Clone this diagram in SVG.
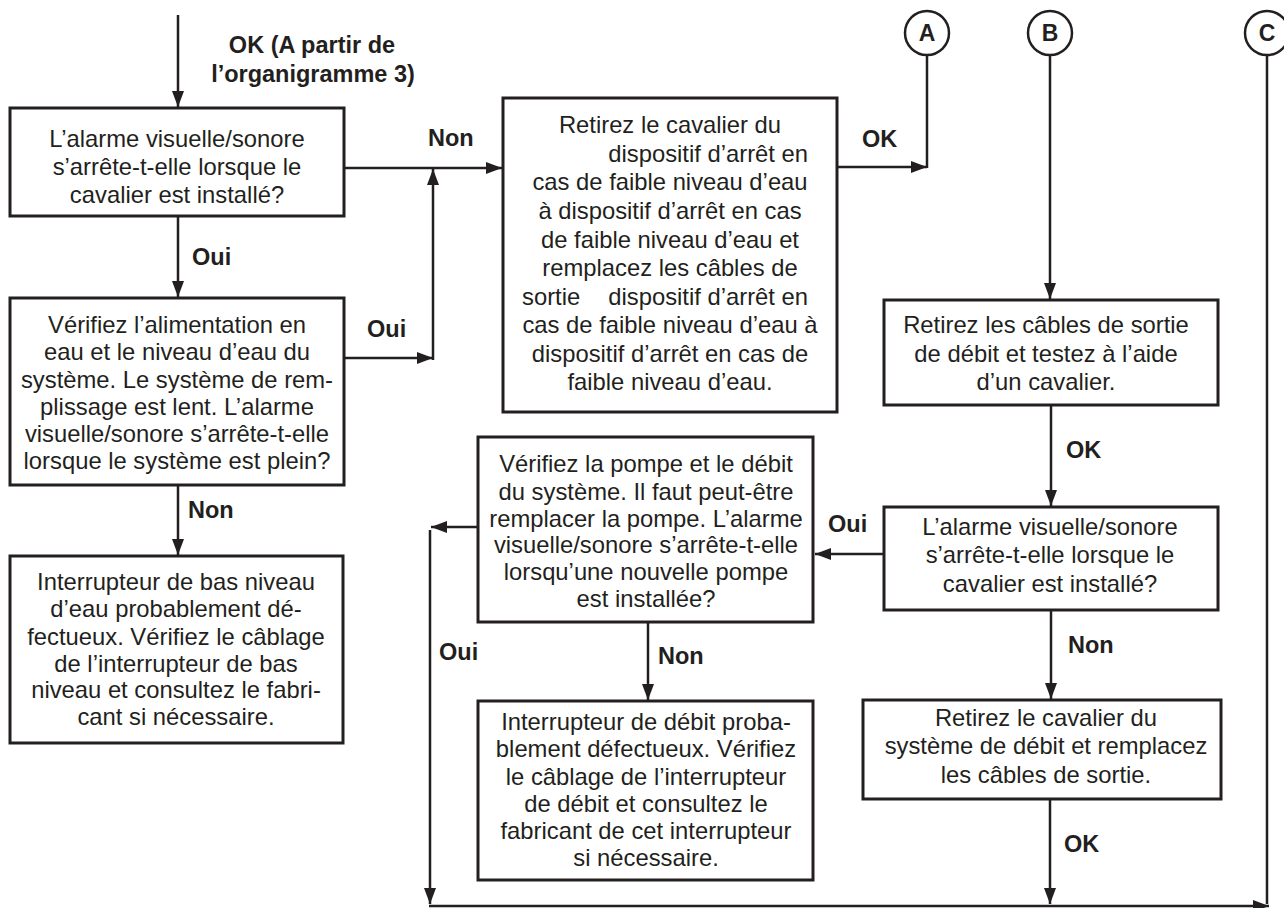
<svg xmlns="http://www.w3.org/2000/svg" width="1284" height="908" viewBox="0 0 1284 908">
<style>
.box{fill:#fff;stroke:#231f20;stroke-width:3}
.t{font-family:"Liberation Sans",Arial,sans-serif;font-size:23.8px;fill:#231f20;text-anchor:middle}
.b{font-family:"Liberation Sans",Arial,sans-serif;font-size:23.5px;font-weight:bold;fill:#231f20}
.c{font-family:"Liberation Sans",Arial,sans-serif;font-size:23px;font-weight:bold;fill:#231f20;text-anchor:middle}
.ln{fill:none;stroke:#231f20;stroke-width:2.5}
.arr{marker-end:url(#ah)}
.circ{fill:#fff;stroke:#231f20;stroke-width:2.5}
</style>
<defs>
<marker id="ah" viewBox="0 0 16 12" refX="16" refY="6" markerWidth="16" markerHeight="12" orient="auto" markerUnits="userSpaceOnUse">
<path d="M0,0 L16,6 L0,12 z" fill="#231f20"/>
</marker>
</defs>
<rect width="1284" height="908" fill="#fff"/>

<g id="connectors">
<path class="ln arr" d="M178,15 V107"/>
<path class="ln arr" d="M178,216 V297"/>
<path class="ln arr" d="M344,168 H502"/>
<path class="ln arr" d="M344,358 H433"/>
<path class="ln arr" d="M433,360 V169"/>
<path class="ln arr" d="M837,167 H927"/>
<path class="ln" d="M927,55 V168"/>
<path class="ln arr" d="M1050,55 V299"/>
<path class="ln arr" d="M1051,405 V506"/>
<path class="ln arr" d="M884,554 H815"/>
<path class="ln arr" d="M478,527 H431"/>
<path class="ln arr" d="M430,530 V904"/>
<path class="ln arr" d="M648,622 V700"/>
<path class="ln arr" d="M1051,610 V699"/>
<path class="ln arr" d="M1050,799 V904"/>
<path class="ln arr" d="M429,906 H1269"/>
<path class="ln" d="M1267,55 V904"/>
<path class="ln arr" d="M178,485 V555"/>
<text class="b" x="312" y="53" text-anchor="middle">OK (A partir de</text>
<text class="b" x="313" y="82" text-anchor="middle">l’organigramme 3)</text>
<text class="b" x="192" y="265">Oui</text>
<text class="b" x="428" y="146">Non</text>
<text class="b" x="367" y="337">Oui</text>
<text class="b" x="862" y="147">OK</text>
<text class="b" x="188" y="518">Non</text>
<text class="b" x="1066" y="458">OK</text>
<text class="b" x="828" y="532">Oui</text>
<text class="b" x="1068" y="653">Non</text>
<text class="b" x="658" y="664">Non</text>
<text class="b" x="439" y="660">Oui</text>
<text class="b" x="1064" y="852">OK</text>
</g>

<g id="n1">
<rect class="box" x="10" y="108" width="334" height="108"/>
<text class="t"><tspan x="177" y="147">L’alarme visuelle/sonore</tspan><tspan x="177" y="175">s’arrête-t-elle lorsque le</tspan><tspan x="177" y="203">cavalier est installé?</tspan></text>
</g>

<g id="n2">
<rect class="box" x="10" y="298" width="334" height="187"/>
<text class="t"><tspan x="177" y="333">Vérifiez l’alimentation en</tspan><tspan x="177" y="360">eau et le niveau d’eau du</tspan><tspan x="177" y="388">système. Le système de rem-</tspan><tspan x="177" y="415">plissage est lent. L’alarme</tspan><tspan x="177" y="442">visuelle/sonore s’arrête-t-elle</tspan><tspan x="177" y="469">lorsque le système est plein?</tspan></text>
</g>

<g id="n3">
<rect class="box" x="10" y="556" width="333" height="187"/>
<text class="t"><tspan x="176" y="590">Interrupteur de bas niveau</tspan><tspan x="176" y="617">d’eau probablement dé-</tspan><tspan x="176" y="645">fectueux. Vérifiez le câblage</tspan><tspan x="176" y="672">de l’interrupteur de bas</tspan><tspan x="176" y="698">niveau et consultez le fabri-</tspan><tspan x="176" y="725">cant si nécessaire.</tspan></text>
</g>

<g id="n4">
<rect class="box" x="503" y="98" width="334" height="314"/>
<text class="t"><tspan x="670" y="133">Retirez le cavalier du</tspan><tspan x="808" y="162" text-anchor="end">dispositif d’arrêt en</tspan><tspan x="670" y="190">cas de faible niveau d’eau</tspan><tspan x="670" y="219">à dispositif d’arrêt en cas</tspan><tspan x="670" y="248">de faible niveau d’eau et</tspan><tspan x="670" y="276">remplacez les câbles de</tspan><tspan x="522" y="305" text-anchor="start">sortie</tspan><tspan x="808" y="305" text-anchor="end">dispositif d’arrêt en</tspan><tspan x="670" y="333">cas de faible niveau d’eau à</tspan><tspan x="670" y="362">dispositif d’arrêt en cas de</tspan><tspan x="670" y="390">faible niveau d’eau.</tspan></text>
</g>

<g id="nA">
<circle class="circ" cx="927" cy="33" r="22"/>
<text class="c" x="927" y="41">A</text>
</g>
<g id="nB">
<circle class="circ" cx="1050" cy="33" r="22"/>
<text class="c" x="1050" y="41">B</text>
</g>
<g id="nC">
<circle class="circ" cx="1267" cy="33" r="22"/>
<text class="c" x="1267" y="41">C</text>
</g>

<g id="n5">
<rect class="box" x="884" y="300" width="334" height="105"/>
<text class="t"><tspan x="1046" y="333">Retirez les câbles de sortie</tspan><tspan x="1046" y="362">de débit et testez à l’aide</tspan><tspan x="1046" y="390">d’un cavalier.</tspan></text>
</g>

<g id="n6">
<rect class="box" x="884" y="507" width="334" height="103"/>
<text class="t"><tspan x="1050" y="535">L’alarme visuelle/sonore</tspan><tspan x="1050" y="563">s’arrête-t-elle lorsque le</tspan><tspan x="1050" y="592">cavalier est installé?</tspan></text>
</g>

<g id="n7">
<rect class="box" x="478" y="437" width="335" height="185"/>
<text class="t"><tspan x="646" y="472">Vérifiez la pompe et le débit</tspan><tspan x="646" y="500">du système. Il faut peut-être</tspan><tspan x="646" y="527">remplacer la pompe. L’alarme</tspan><tspan x="646" y="553">visuelle/sonore s’arrête-t-elle</tspan><tspan x="646" y="580">lorsqu’une nouvelle pompe</tspan><tspan x="646" y="607">est installée?</tspan></text>
</g>

<g id="n8">
<rect class="box" x="478" y="701" width="335" height="179"/>
<text class="t"><tspan x="646" y="730">Interrupteur de débit proba-</tspan><tspan x="646" y="757">blement défectueux. Vérifiez</tspan><tspan x="646" y="785">le câblage de l’interrupteur</tspan><tspan x="646" y="812">de débit et consultez le</tspan><tspan x="646" y="839">fabricant de cet interrupteur</tspan><tspan x="646" y="866">si nécessaire.</tspan></text>
</g>

<g id="n9">
<rect class="box" x="863" y="700" width="358" height="99"/>
<text class="t"><tspan x="1046" y="726">Retirez le cavalier du</tspan><tspan x="1046" y="754">système de débit et remplacez</tspan><tspan x="1046" y="783">les câbles de sortie.</tspan></text>
</g>
</svg>
